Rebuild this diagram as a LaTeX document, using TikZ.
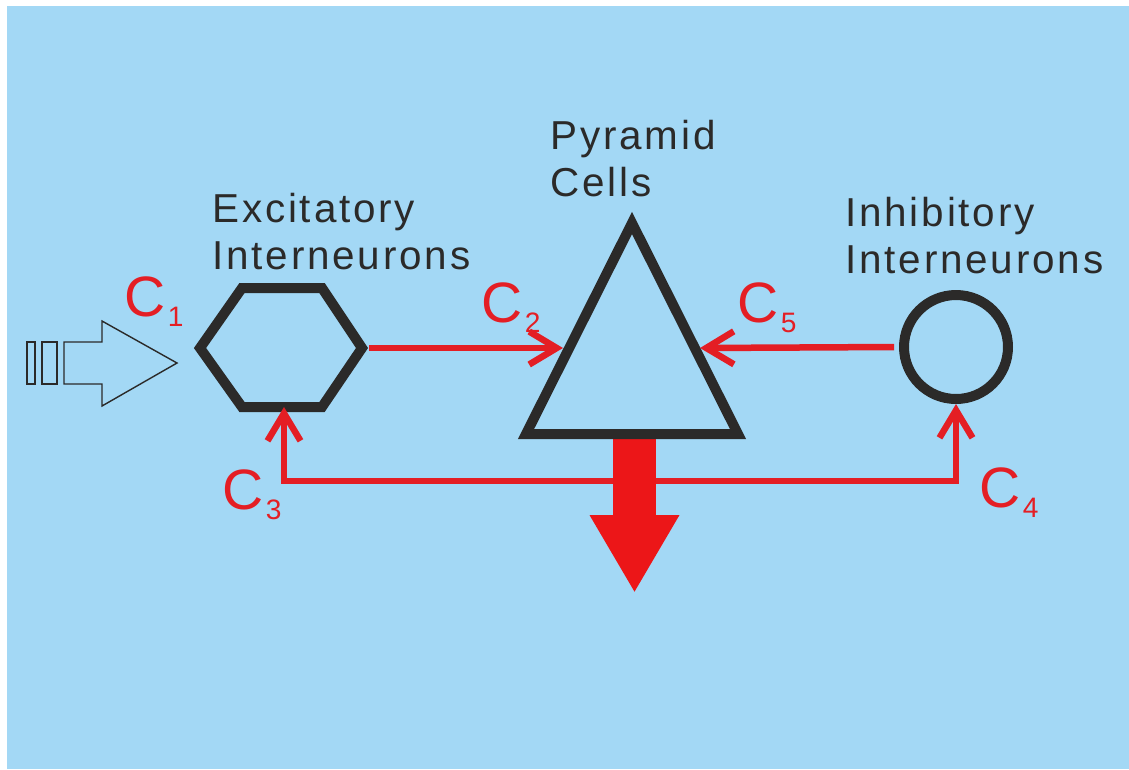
\documentclass[tikz,border=0pt]{standalone}
\usepackage{fontspec}
\setmainfont{Liberation Sans}
\newfontfamily\cellfont[LetterSpace=7]{Liberation Sans}
\usepackage{tikz}
\usetikzlibrary{arrows.meta, shapes.geometric}
\definecolor{bgblue}{RGB}{163,216,245}
\definecolor{cellgray}{RGB}{43,42,41}
\definecolor{linkred}{RGB}{228,30,36}
\definecolor{outred}{RGB}{236,22,24}
\newcommand{\conn}[1]{C\hspace{0.05cm}\raisebox{-0.2cm}{\fontsize{16}{16}\selectfont #1}}

\begin{document}
\begin{tikzpicture}[
    x=0.02cm, y=-0.02cm,
    >={Straight Barb[length=0.55cm, width=0.66cm]},
    cell/.style={draw=cellgray, line width=0.2cm, line join=miter},
    link/.style={draw=linkred, line width=0.13cm},
    celltext/.style={anchor=north west, inner sep=0pt, align=left, text=cellgray, font=\cellfont\fontsize{23}{26.8}\selectfont},
    conlab/.style={anchor=base west, inner sep=0pt, text=linkred, font=\fontsize{32.4}{34}\selectfont},
]
    \fill[bgblue] (7,6) rectangle (1129,769);
    \useasboundingbox (0,0) rectangle (1129,769);

    % input
    \draw[cellgray, line width=0.8pt] (27,342) rectangle (35,384);
    \draw[cellgray, line width=0.8pt] (42,342) rectangle (57,384);
    \draw[cellgray, line width=0.8pt] (64,342) -- (102,342) -- (102,321) -- (177,363) -- (102,406) -- (102,384) -- (64,384) -- cycle;

    % cells
    \draw[cell] (200,348) -- (242,288) -- (322,288) -- (362,348) -- (322,407) -- (242,407) -- cycle;
    \coordinate (exc-e) at (369,348);
    \coordinate (exc-s) at (284,407);
    \coordinate (pyr-w) at (563,348);
    \coordinate (pyr-e) at (700,348);
    \coordinate (pyr-s) at (634.5,434);
    \coordinate (split) at (634.5,481);
    \coordinate (out) at (634.5,593);
    \node[cell, circle, minimum size=2.08cm, inner sep=0pt] (inh) at (956,347) {};

    \draw[link, ->] (split) -| (exc-s);
    \draw[link, ->] (split) -| (inh.south);
    \draw[outred, line width=0.86cm, -{Triangle[length=1.56cm, width=1.68cm]}] (pyr-s) -- (out);
    \draw[cell] (632,223) -- (738,434) -- (526,434) -- cycle;

    \draw[link, ->] (exc-e) -- (pyr-w);
    \draw[link, ->] ([xshift=-0.1cm]inh.west) -- (pyr-e);

    % labels
    \node[celltext] (exc-lab) at (212,193) {Excitatory\\Interneurons};
    \node[celltext] (pyr-lab) at (550,120) {Pyramid\\Cells};
    \node[celltext] (inh-lab) at (845,197) {Inhibitory\\Interneurons};

    \node[conlab] (c1) at (124,316) {\conn{1}};
    \node[conlab] (c2) at (481,322) {\conn{2}};
    \node[conlab] (c3) at (222,509) {\conn{3}};
    \node[conlab] (c4) at (979,507) {\conn{4}};
    \node[conlab] (c5) at (737,322) {\conn{5}};
\end{tikzpicture}
\end{document}
